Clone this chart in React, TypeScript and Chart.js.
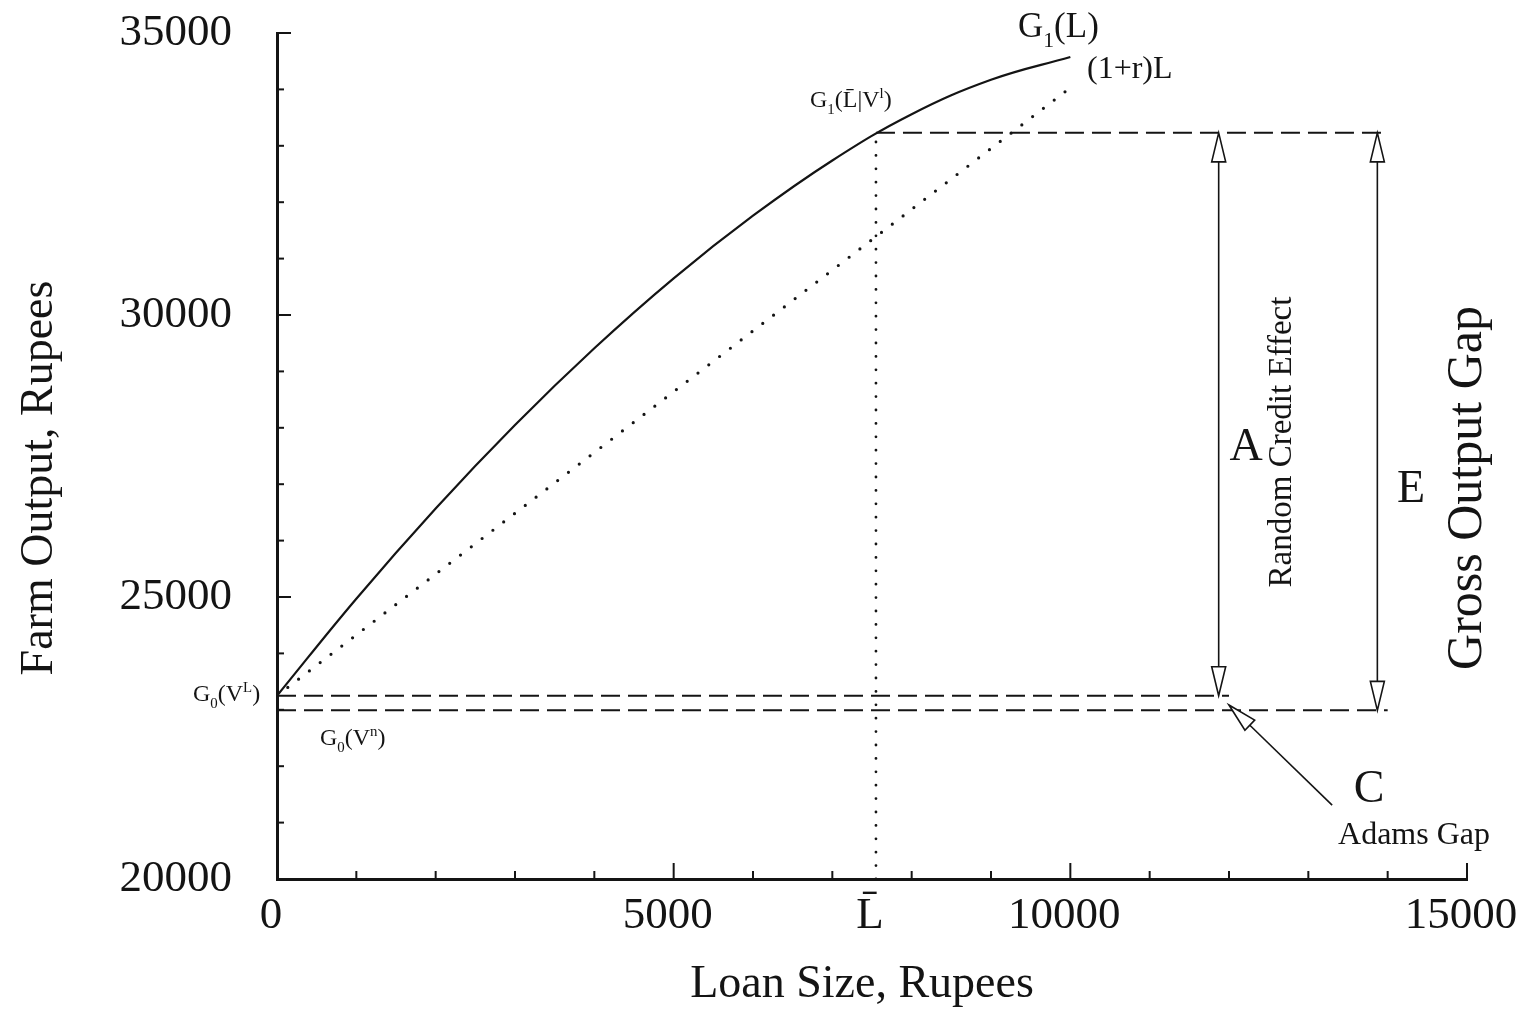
import React, { useEffect, useRef } from "react";
import { Chart, registerables } from "chart.js";

Chart.register(...registerables);

// ---- data ----
const loanSizes = [0, 1000, 2000, 3000, 4000, 5000, 6000, 7000, 8000, 9000, 10000];
const g1Output = [23250, 24970, 26570, 28050, 29410, 30650, 31760, 32740, 33560, 34170, 34575];
const repayLoan = [0, 10000];
const repayOutput = [23250, 34030];
const lBar = 7550;
const g1AtLBar = 33230;
const g0VL = 23250;
const g0Vn = 22990;
const g0VLEnd = 12000;
const gapLineEnd = 14000;
const arrowAX = 11870;
const arrowEX = 13870;
const adamsTail = [13300, 21310];
const adamsTip = [12000, 23085];

const xTickValues = [0, 1000, 2000, 3000, 4000, 5000, 6000, 7000, 7550, 8000, 9000, 10000, 11000, 12000, 13000, 14000, 15000];
const xTickLabels: Record<number, string> = { 0: "0", 5000: "5000", 7550: "L\u0304", 10000: "10000", 15000: "15000" };
const yTickValues = [20000, 21000, 22000, 23000, 24000, 25000, 26000, 27000, 28000, 29000, 30000, 31000, 32000, 33000, 34000, 35000];
const yTickLabels: Record<number, string> = { 20000: "20000", 25000: "25000", 30000: "30000", 35000: "35000" };

const SERIF = "'Liberation Serif', 'Times New Roman', serif";
const INK = "#141414";

type Seg = [string, "n" | "sub" | "sup"];

function drawRich(ctx: CanvasRenderingContext2D, x: number, y: number, segs: Seg[], size: number) {
  let cx = x;
  ctx.textAlign = "left";
  ctx.textBaseline = "alphabetic";
  for (const [t, kind] of segs) {
    const s = kind === "n" ? size : size * 0.62;
    const dy = kind === "sub" ? size * 0.28 : kind === "sup" ? -size * 0.36 : 0;
    ctx.font = `${s}px ${SERIF}`;
    ctx.fillText(t, cx, y + dy);
    cx += ctx.measureText(t).width;
  }
}

function drawHead(ctx: CanvasRenderingContext2D, tipX: number, tipY: number, fromX: number, fromY: number, len: number, half: number) {
  const dx = tipX - fromX;
  const dy = tipY - fromY;
  const d = Math.hypot(dx, dy) || 1;
  const ux = dx / d, uy = dy / d;
  const bx = tipX - ux * len, by = tipY - uy * len;
  const px = -uy, py = ux;
  ctx.beginPath();
  ctx.moveTo(tipX, tipY);
  ctx.lineTo(bx + px * half, by + py * half);
  ctx.lineTo(bx - px * half, by - py * half);
  ctx.closePath();
  ctx.fillStyle = "#fff";
  ctx.fill();
  ctx.stroke();
}

const decorPlugin = {
  id: "decor",
  afterDatasetsDraw(chart: any) {
    const ctx: CanvasRenderingContext2D = chart.ctx;
    const xs = chart.scales.x;
    const ys = chart.scales.y;
    const area = chart.chartArea;
    ctx.save();
    ctx.strokeStyle = INK;
    ctx.fillStyle = INK;

    // inward tick marks
    ctx.lineWidth = 2;
    for (const v of yTickValues) {
      const py = ys.getPixelForValue(v);
      const len = v % 5000 === 0 ? 14 : 7;
      ctx.beginPath();
      ctx.moveTo(area.left, py);
      ctx.lineTo(area.left + len, py);
      ctx.stroke();
    }
    for (const v of xTickValues) {
      if (v === lBar) continue;
      const px = xs.getPixelForValue(v);
      const len = v % 5000 === 0 ? 16 : 8;
      ctx.beginPath();
      ctx.moveTo(px, area.bottom);
      ctx.lineTo(px, area.bottom - len);
      ctx.stroke();
    }

    // vertical double arrows
    ctx.lineWidth = 1.6;
    const vArrows: [number, number, number][] = [
      [arrowAX, g0VL, g1AtLBar],
      [arrowEX, g0Vn, g1AtLBar],
    ];
    for (const [xv, y0, y1] of vArrows) {
      const px = xs.getPixelForValue(xv);
      const pTop = ys.getPixelForValue(y1);
      const pBot = ys.getPixelForValue(y0);
      ctx.beginPath();
      ctx.moveTo(px, pTop + 28);
      ctx.lineTo(px, pBot - 28);
      ctx.stroke();
      drawHead(ctx, px, pTop, px, pBot, 29, 7);
      drawHead(ctx, px, pBot, px, pTop, 29, 7);
    }
    // Adams gap pointer
    {
      const tx = xs.getPixelForValue(adamsTip[0]);
      const ty = ys.getPixelForValue(adamsTip[1]);
      const fx = xs.getPixelForValue(adamsTail[0]);
      const fy = ys.getPixelForValue(adamsTail[1]);
      ctx.beginPath();
      ctx.moveTo(fx, fy);
      const d = Math.hypot(tx - fx, ty - fy);
      ctx.lineTo(tx - ((tx - fx) / d) * 28, ty - ((ty - fy) / d) * 28);
      ctx.stroke();
      drawHead(ctx, tx, ty, fx, fy, 29, 7);
    }

    // texts
    ctx.fillStyle = INK;
    drawRich(ctx, 1018, 37, [["G", "n"], ["1", "sub"], ["(L)", "n"]], 35);
    drawRich(ctx, 1087, 78, [["(1+r)L", "n"]], 32);
    drawRich(ctx, 810, 107, [["G", "n"], ["1", "sub"], ["(L\u0304|V", "n"], ["l", "sup"], [")", "n"]], 24);
    drawRich(ctx, 193, 701, [["G", "n"], ["0", "sub"], ["(V", "n"], ["L", "sup"], [")", "n"]], 24);
    drawRich(ctx, 320, 745, [["G", "n"], ["0", "sub"], ["(V", "n"], ["n", "sup"], [")", "n"]], 24);

    ctx.textAlign = "center";
    ctx.textBaseline = "middle";
    ctx.font = `46px ${SERIF}`;
    ctx.fillText("A", 1246, 448);
    ctx.fillText("E", 1411, 490);
    ctx.fillText("C", 1369, 790);
    ctx.font = `32px ${SERIF}`;
    ctx.fillText("Adams Gap", 1414, 836);

    ctx.font = `46px ${SERIF}`;
    ctx.fillText("Loan Size, Rupees", 862, 985);

    const rot = (t: string, cx: number, cy: number, size: number) => {
      ctx.save();
      ctx.translate(cx, cy);
      ctx.rotate(-Math.PI / 2);
      ctx.font = `${size}px ${SERIF}`;
      ctx.textAlign = "center";
      ctx.textBaseline = "middle";
      ctx.fillText(t, 0, 0);
      ctx.restore();
    };
    rot("Farm Output, Rupees", 40, 478, 46);
    rot("Random Credit Effect", 1282, 442, 33);
    rot("Gross Output Gap", 1468, 488, 50);

    ctx.restore();
  },
};

export default function App() {
  const canvasRef = useRef<HTMLCanvasElement | null>(null);

  useEffect(() => {
    const canvas = canvasRef.current;
    if (!canvas) return;

    const curve = loanSizes.map((x, i) => ({ x, y: g1Output[i] }));
    const repay = repayLoan.map((x, i) => ({ x, y: repayOutput[i] }));

    const chart = new Chart(canvas, {
      type: "line",
      data: {
        datasets: [
          {
            data: curve,
            borderColor: INK,
            borderWidth: 2.2,
            pointRadius: 0,
            tension: 0.4,
            fill: false,
          },
          {
            data: repay,
            borderColor: INK,
            borderWidth: 3.2,
            borderDash: [0, 13.6],
            borderCapStyle: "round",
            pointRadius: 0,
            fill: false,
          },
          {
            data: [{ x: lBar, y: 20000 }, { x: lBar, y: g1AtLBar }],
            borderColor: INK,
            borderWidth: 2.8,
            borderDash: [0, 13.4],
            borderCapStyle: "round",
            pointRadius: 0,
            fill: false,
          },
          {
            data: [{ x: 0, y: g0VL }, { x: g0VLEnd, y: g0VL }],
            borderColor: INK,
            borderWidth: 2,
            borderDash: [19, 8],
            pointRadius: 0,
            fill: false,
          },
          {
            data: [{ x: 0, y: g0Vn }, { x: gapLineEnd, y: g0Vn }],
            borderColor: INK,
            borderWidth: 2,
            borderDash: [19, 8],
            pointRadius: 0,
            fill: false,
          },
          {
            data: [{ x: lBar, y: g1AtLBar }, { x: gapLineEnd, y: g1AtLBar }],
            borderColor: INK,
            borderWidth: 2,
            borderDash: [19, 8],
            pointRadius: 0,
            fill: false,
          },
        ],
      } as any,
      options: {
        animation: false,
        responsive: true,
        maintainAspectRatio: false,
        layout: { padding: { left: 0, top: 33, right: 54, bottom: 0 } },
        plugins: {
          legend: { display: false },
          tooltip: { enabled: false },
        },
        elements: { line: { tension: 0 } },
        scales: {
          x: {
            type: "linear",
            min: 0,
            max: 15000,
            afterBuildTicks: (s: any) => {
              s.ticks = [...xTickValues].sort((a, b) => a - b).map((v) => ({ value: v }));
            },
            afterFit: (s: any) => {
              s.height = 132;
              s.paddingLeft = 0;
              s.paddingRight = 0;
              s.paddingTop = 0;
              s.paddingBottom = 0;
            },
            grid: { display: false, drawTicks: false },
            border: { display: true, color: INK, width: 3 },
            ticks: {
              autoSkip: false,
              maxRotation: 0,
              minRotation: 0,
              padding: 10,
              labelOffset: -6,
              color: INK,
              font: { family: SERIF, size: 45 },
              callback: (v: any) => xTickLabels[Number(v)] ?? "",
            },
          },
          y: {
            type: "linear",
            min: 20000,
            max: 35000,
            afterBuildTicks: (s: any) => {
              s.ticks = yTickValues.map((v) => ({ value: v }));
            },
            afterFit: (s: any) => {
              s.width = 277;
              s.paddingLeft = 0;
              s.paddingRight = 0;
              s.paddingTop = 0;
              s.paddingBottom = 0;
            },
            grid: { display: false, drawTicks: false },
            border: { display: true, color: INK, width: 3 },
            ticks: {
              autoSkip: false,
              padding: 45,
              color: INK,
              font: { family: SERIF, size: 45 },
              callback: (v: any) => yTickLabels[Number(v)] ?? "",
            },
          },
        },
      } as any,
      plugins: [decorPlugin],
    });

    return () => chart.destroy();
  }, []);

  return (
    <div style={{ position: "fixed", left: 0, top: 0, width: 1521, height: 1011, background: "#fff" }}>
      <canvas ref={canvasRef} />
    </div>
  );
}
